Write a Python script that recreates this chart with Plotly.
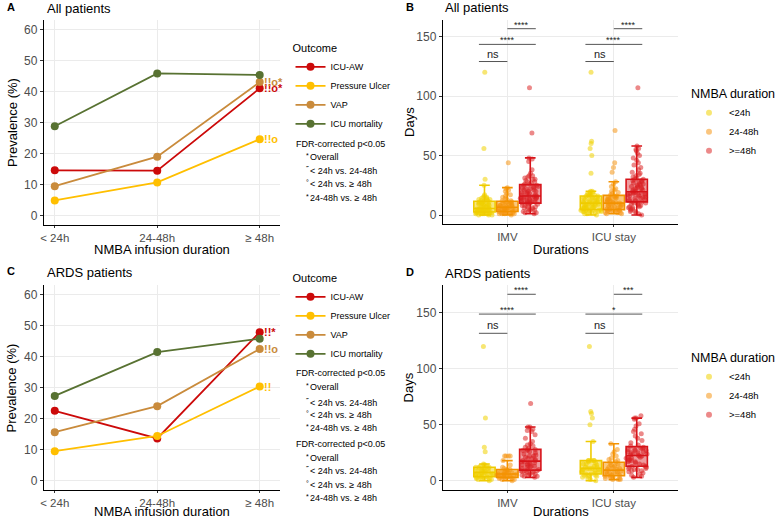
import plotly.graph_objects as go

W, H = 778, 519
def px(x):
    return x / W
def py(y):
    return 1 - y / H

FONT = "Liberation Sans, Arial, sans-serif"

# ---------------- Panels A / C : prevalence by NMBA infusion duration ----------------
nmba_levels = ["< 24h", "24-48h", "≥ 48h"]
outcomes = ["ICU-AW", "Pressure Ulcer", "VAP", "ICU mortality"]
outcome_colors = ["#CC0A0A", "#FFBF00", "#C98B3C", "#587232"]

prev_all_icuaw = [14.6, 14.5, 41.0]
prev_all_pu = [4.9, 10.7, 24.6]
prev_all_vap = [9.5, 19.0, 43.0]
prev_all_mort = [28.8, 45.8, 45.3]

prev_ards_icuaw = [22.5, 13.6, 47.8]
prev_ards_pu = [9.5, 14.4, 30.3]
prev_ards_vap = [15.6, 24.0, 42.4]
prev_ards_mort = [27.3, 41.4, 45.7]

sig_all = ["!!o*", "!!o", "!!o*", ""]
sig_ards = ["!!*", "!!", "!!o", ""]

fdr_title = "FDR-corrected p&lt;0.05"
fdr_symbols = ["*", "\u02dd", "°", "*"]
fdr_items = ["Overall", "&lt; 24h vs. 24-48h", "&lt; 24h vs. ≥ 48h", "24-48h vs. ≥ 48h"]

# ---------------- Panels B / D : durations (days) ----------------
dur_cats = ["IMV", "ICU stay"]
nmba_groups = ["&lt;24h", "24-48h", "&gt;=48h"]
group_line_colors = ["#EFCB00", "#F39200", "#D7141A"]
group_fill_colors = ["rgba(240,205,0,0.5)", "rgba(243,146,0,0.5)", "rgba(215,20,26,0.42)"]
group_point_colors = ["rgba(240,210,0,0.55)", "rgba(245,150,20,0.55)", "rgba(220,40,40,0.55)"]

all_imv_lt24 = [0, 0, 0, 1, 1, 1, 1, 1, 1, 2, 2, 2, 2, 2, 2, 2,
                3, 3, 3, 3, 4, 4, 4, 4, 5, 5, 5, 5, 5, 5, 5, 5,
                6, 7, 7, 7, 8, 8, 8, 9, 9, 9, 10, 10, 10, 11, 11, 11,
                12, 12, 12, 13, 13, 13, 14, 14, 15, 15, 16, 17, 25, 30, 56, 120]
all_imv_24_48 = [0, 1, 1, 1, 1, 2, 2, 2, 2, 2, 2, 3, 3,
                 3, 4, 4, 4, 5, 5, 5, 5, 6, 6, 6, 6, 6,
                 7, 7, 7, 8, 8, 8, 9, 9, 10, 10, 10, 11, 11,
                 12, 12, 13, 14, 15, 16, 17, 18, 20, 21, 22, 23, 44]
all_imv_ge48 = [1, 2, 2, 3, 3, 4, 4, 5, 5, 6, 6, 7, 7, 8, 8, 9, 9, 10, 10,
                10, 11, 11, 11, 12, 12, 12, 13, 13, 13, 14, 14, 14, 15, 15, 15, 15, 16, 16,
                16, 17, 17, 18, 18, 19, 19, 20, 20, 21, 21, 22, 22, 23, 23, 24, 24, 25, 25,
                26, 26, 27, 28, 28, 29, 30, 30, 31, 32, 33, 33, 35, 38, 45, 47, 48, 69, 107]
all_icu_lt24 = [0, 1, 1, 2, 2, 2, 3, 3, 3, 3, 4, 4, 4, 4, 4, 4,
                5, 5, 5, 6, 6, 6, 7, 7, 7, 8, 8, 8, 9, 9, 9, 10,
                10, 10, 11, 11, 11, 12, 12, 12, 13, 13, 14, 14, 15, 15, 16, 16,
                16, 17, 17, 17, 18, 18, 19, 19, 20, 20, 35, 50, 56, 60, 62, 120]
all_icu_24_48 = [1, 1, 2, 2, 2, 3, 3, 3, 3, 4, 4, 4, 4,
                 5, 5, 6, 6, 7, 7, 8, 8, 8, 9, 9, 10, 10,
                 10, 11, 11, 12, 12, 13, 13, 14, 14, 15, 15, 16, 16,
                 17, 18, 19, 20, 21, 22, 24, 26, 28, 36, 40, 44, 71]
all_icu_ge48 = [0, 1, 2, 3, 3, 4, 5, 5, 6, 6, 7, 7, 8, 8, 9, 9, 10, 10, 11, 11,
                11, 12, 12, 13, 13, 14, 14, 15, 15, 16, 16, 17, 17, 17, 18, 18, 18, 19, 19, 19,
                20, 20, 21, 21, 22, 22, 23, 23, 24, 24, 25, 25, 26, 26, 27, 28, 28, 29, 29, 30,
                30, 31, 32, 33, 34, 35, 36, 38, 40, 42, 44, 46, 48, 50, 52, 54, 55, 56, 58, 107]

ards_imv_lt24 = [0, 1, 1, 2, 2, 2, 2, 3, 3, 3,
                 4, 4, 5, 5, 5, 6, 6, 6, 7, 7,
                 8, 8, 9, 9, 10, 10, 11, 11, 12, 12,
                 12, 13, 13, 14, 14, 15, 26, 30, 56, 120]
ards_imv_24_48 = [0, 1, 1, 2, 2, 2, 3, 3, 3,
                  3, 4, 4, 5, 5, 5, 6, 6, 6,
                  6, 7, 7, 7, 8, 8, 9, 9, 10,
                  10, 11, 12, 14, 18, 22, 22, 22, 22]
ards_imv_ge48 = [3, 4, 4, 5, 5, 6, 6, 7, 7, 8, 8, 8, 9, 9, 9,
                 10, 10, 11, 12, 12, 13, 13, 14, 14, 15, 15, 16, 16, 17, 17,
                 18, 18, 19, 20, 20, 21, 22, 22, 23, 24, 25, 26, 27, 27, 28,
                 28, 29, 30, 31, 32, 33, 35, 38, 41, 44, 45, 46, 48, 48, 69]
ards_icu_lt24 = [0, 1, 2, 3, 4, 4, 5, 5, 5, 6,
                 6, 7, 8, 8, 9, 9, 10, 10, 11, 11,
                 11, 12, 12, 13, 14, 15, 15, 16, 17, 18,
                 18, 18, 18, 18, 35, 50, 56, 60, 62, 120]
ards_icu_24_48 = [1, 1, 1, 2, 2, 3, 3, 4, 4,
                  5, 5, 6, 6, 7, 7, 8, 8, 9,
                  10, 10, 11, 12, 12, 13, 14, 15, 16,
                  17, 18, 19, 20, 22, 24, 26, 28, 33]
ards_icu_ge48 = [3, 4, 5, 6, 7, 8, 9, 9, 10, 10, 11, 11, 12, 12, 13,
                 13, 14, 15, 16, 17, 17, 18, 18, 19, 20, 20, 21, 21, 22, 22,
                 23, 23, 24, 24, 25, 25, 26, 26, 27, 27, 28, 28, 29, 29, 30,
                 31, 32, 34, 36, 38, 40, 42, 44, 46, 49, 51, 55, 56, 56, 58]

bracket_pairs = [(0, 1), (0, 2), (1, 2)]
bracket_y_all = [129, 143.4, 156.6]
bracket_y_ards = [131.8, 149, 166.7]
bracket_labels_all = [["ns", "****", "****"], ["ns", "****", "****"]]
bracket_labels_ards = [["ns", "****", "****"], ["ns", "*", "***"]]
GROUP_OFFSET = [-0.267, 0.0, 0.267]

fig = go.Figure()

# ---- line panels ----
def add_line_panel(series, sig, xa, ya, legend):
    for name, vals, col in zip(outcomes, series, outcome_colors):
        fig.add_trace(go.Scatter(
            x=nmba_levels, y=vals, mode="lines+markers", name=name,
            line=dict(color=col, width=1.8), marker=dict(color=col, size=8),
            xaxis=xa, yaxis=ya, legend=legend, hoverinfo="x+y+name"))
    for vals, col, s in zip(series, outcome_colors, sig):
        if s:
            fig.add_annotation(x=nmba_levels[-1], y=vals[-1], xref=xa, yref=ya,
                               text="<b>" + s + "</b>", showarrow=False,
                               xanchor="left", yanchor="middle", xshift=2,
                               font=dict(family=FONT, size=11, color=col))

add_line_panel([prev_all_icuaw, prev_all_pu, prev_all_vap, prev_all_mort], sig_all, "x", "y", "legend")
add_line_panel([prev_ards_icuaw, prev_ards_pu, prev_ards_vap, prev_ards_mort], sig_ards, "x3", "y3", "legend2")

# ---- box panels ----
def add_box_panel(groups, xa, ya, legend):
    for gi, (imv, icu) in enumerate(groups):
        xs = [dur_cats[0]] * len(imv) + [dur_cats[1]] * len(icu)
        ys = imv + icu
        og = "g%d" % gi
        # jittered sample points (box itself invisible)
        fig.add_trace(go.Box(
            x=xs, y=ys, xaxis=xa, yaxis=ya, offsetgroup=og,
            boxpoints="all", jitter=1.0, pointpos=0,
            marker=dict(color=group_point_colors[gi], size=5, line=dict(width=0)),
            line=dict(width=0, color="rgba(0,0,0,0)"), fillcolor="rgba(0,0,0,0)",
            showlegend=False, hoverinfo="y"))
        # box and whiskers on top (outlier markers hidden, whiskers at 1.5 IQR)
        fig.add_trace(go.Box(
            x=xs, y=ys, xaxis=xa, yaxis=ya, offsetgroup=og, boxpoints="outliers",
            marker=dict(opacity=0, size=1),
            line=dict(color=group_line_colors[gi], width=1.6),
            fillcolor=group_fill_colors[gi], showlegend=False, hoverinfo="skip"))
        # legend key (point glyph)
        fig.add_trace(go.Scatter(
            x=[None], y=[None], mode="markers", name=nmba_groups[gi],
            marker=dict(color=group_point_colors[gi], size=6),
            xaxis=xa, yaxis=ya, legend=legend))

def add_brackets(xa, ya, heights, labels):
    for ci in range(len(dur_cats)):
        for (a, b), h, lab in zip(bracket_pairs, heights, labels[ci]):
            x0 = ci + GROUP_OFFSET[a]
            x1 = ci + GROUP_OFFSET[b]
            fig.add_shape(type="line", xref=xa, yref=ya, x0=x0, x1=x1, y0=h, y1=h,
                          line=dict(color="#555555", width=1))
            fig.add_annotation(x=(x0 + x1) / 2, y=h, xref=xa, yref=ya, text=lab,
                               showarrow=False, yanchor="bottom",
                               yshift=(0 if lab == "ns" else -3),
                               font=dict(family=FONT, size=(11 if lab == "ns" else 9), color="#222"))

add_box_panel([(all_imv_lt24, all_icu_lt24), (all_imv_24_48, all_icu_24_48), (all_imv_ge48, all_icu_ge48)],
              "x2", "y2", "legend3")
add_box_panel([(ards_imv_lt24, ards_icu_lt24), (ards_imv_24_48, ards_icu_24_48), (ards_imv_ge48, ards_icu_ge48)],
              "x4", "y4", "legend4")
add_brackets("x2", "y2", bracket_y_all, bracket_labels_all)
add_brackets("x4", "y4", bracket_y_ards, bracket_labels_ards)

# ---- axes ----
ax_common = dict(showline=True, linecolor="black", linewidth=1, showgrid=True,
                 gridcolor="#EBEBEB", gridwidth=1, zeroline=False, ticks="outside",
                 ticklen=3, tickcolor="#333333", tickwidth=1,
                 tickfont=dict(family=FONT, size=12, color="#4D4D4D"), fixedrange=True)
xax_common = dict(ax_common, ticklen=2, tickfont=dict(family=FONT, size=11.5, color="#4D4D4D"))

fig.update_layout(
    xaxis=dict(xax_common, domain=[px(40), px(277)], anchor="y", type="category",
               categoryorder="array", categoryarray=nmba_levels, range=[-0.107, 2.194]),
    yaxis=dict(ax_common, domain=[py(225), py(20)], anchor="x", range=[-3, 63],
               tickvals=[0, 10, 20, 30, 40, 50, 60]),
    xaxis3=dict(xax_common, domain=[px(40), px(277)], anchor="y3", type="category",
                categoryorder="array", categoryarray=nmba_levels, range=[-0.107, 2.194]),
    yaxis3=dict(ax_common, domain=[py(490), py(285)], anchor="x3", range=[-3, 63],
                tickvals=[0, 10, 20, 30, 40, 50, 60]),
    xaxis2=dict(xax_common, domain=[px(441), px(677)], anchor="y2", type="category",
                categoryorder="array", categoryarray=dur_cats, range=[-0.607, 1.598]),
    yaxis2=dict(ax_common, domain=[py(224), py(20)], anchor="x2", range=[-7.56, 163.9],
                tickvals=[0, 50, 100, 150]),
    xaxis4=dict(xax_common, domain=[px(441), px(677)], anchor="y4", type="category",
                categoryorder="array", categoryarray=dur_cats, range=[-0.607, 1.598]),
    yaxis4=dict(ax_common, domain=[py(490), py(285)], anchor="x4", range=[-8.3, 175],
                tickvals=[0, 50, 100, 150]),
    boxmode="group", boxgap=0.355, boxgroupgap=0.07,
    width=W, height=H, margin=dict(l=0, r=0, t=0, b=0),
    paper_bgcolor="white", plot_bgcolor="white",
    font=dict(family=FONT, color="black"),
)

leg_common = dict(bgcolor="rgba(0,0,0,0)", borderwidth=0, xanchor="left", yanchor="top",
                  itemwidth=30, tracegroupgap=0, font=dict(family=FONT, size=9, color="black"),
                  itemclick=False, itemdoubleclick=False)
fig.update_layout(
    legend=dict(leg_common, x=px(288), y=py(38), title=dict(text="Outcome", font=dict(family=FONT, size=11))),
    legend2=dict(leg_common, x=px(288), y=py(268), title=dict(text="Outcome", font=dict(family=FONT, size=11))),
    legend3=dict(leg_common, x=px(689), y=py(82), title=dict(text="NMBA duration", font=dict(family=FONT, size=12.5)),
                 font=dict(family=FONT, size=9.5, color="black")),
    legend4=dict(leg_common, x=px(689), y=py(346), title=dict(text="NMBA duration", font=dict(family=FONT, size=12.5)),
                 font=dict(family=FONT, size=9.5, color="black")),
)

# ---- text: panel letters, titles, axis titles, FDR notes ----
def ann(text, x, y, size, xanchor="left", yanchor="middle", angle=0, bold=False, color="black"):
    fig.add_annotation(text=("<b>%s</b>" % text) if bold else text, x=px(x), y=py(y),
                       xref="paper", yref="paper", showarrow=False, xanchor=xanchor,
                       yanchor=yanchor, textangle=angle,
                       font=dict(family=FONT, size=size, color=color))

panel_letters = ["A", "B", "C", "D"]
panel_titles = ["All patients", "All patients", "ARDS patients", "ARDS patients"]
letter_pos = [(1, 7), (402, 7), (1, 271), (402, 272)]
title_pos = [(41, 8), (441, 7.5), (41, 272.5), (441, 273.5)]
for L, T, lp, tp in zip(panel_letters, panel_titles, letter_pos, title_pos):
    ann(L, lp[0], lp[1], 11, bold=True)
    ann(T, tp[0], tp[1], 13)

ann("NMBA infusion duration", 158.5, 249.5, 13, xanchor="center")
ann("NMBA infusion duration", 158.5, 511.5, 13, xanchor="center")
ann("Prevalence (%)", 8, 122, 13, xanchor="center", angle=-90)
ann("Prevalence (%)", 8, 387.5, 13, xanchor="center", angle=-90)
ann("Durations", 560, 249.5, 13, xanchor="center")
ann("Durations", 560, 511.5, 13, xanchor="center")
ann("Days", 407, 122, 13, xanchor="center", angle=-90)
ann("Days", 407, 387.5, 13, xanchor="center", angle=-90)

fdr_blocks = [
    [144, 157, 171, 184, 198],
    [373.3, 387.3, 402.7, 415.3, 428.3],
    [444, 458, 471.3, 484.7, 498],
]
for ys in fdr_blocks:
    ann(fdr_title, 292, ys[0], 9)
    for sym, item, yy in zip(fdr_symbols, fdr_items, ys[1:]):
        ann(sym, 301.5, yy - 1.5, 7)
        ann(item, 306, yy, 9)

fig.write_html("out.html")
